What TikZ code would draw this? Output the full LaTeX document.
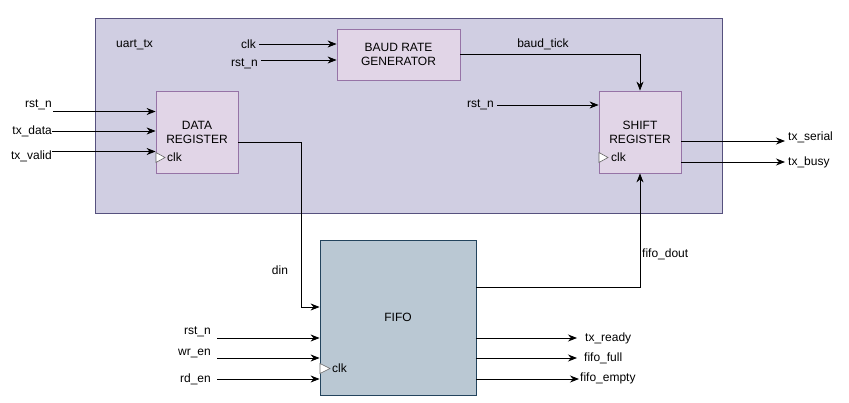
\documentclass[tikz,border=0pt]{standalone}
\usepackage{fontspec}
\setmainfont{Liberation Sans}
\usetikzlibrary{arrows.meta}
\definecolor{outerfill}{HTML}{D0CEE2}
\definecolor{outerdraw}{HTML}{56517E}
\definecolor{subfill}{HTML}{E1D5E7}
\definecolor{subdraw}{HTML}{9673A6}
\definecolor{fifofill}{HTML}{BAC8D3}
\definecolor{fifodraw}{HTML}{23445D}
\tikzset{
  outerbox/.style={draw=outerdraw,fill=outerfill,line width=0.8pt,inner sep=0pt,minimum width=627pt,minimum height=195pt},
  subbox/.style={draw=subdraw,fill=subfill,line width=0.8pt,inner sep=0pt,align=center},
  fifobox/.style={draw=fifodraw,fill=fifofill,line width=0.8pt,inner sep=0pt,minimum width=156pt,minimum height=155pt},
  sig/.style={draw=black,line width=0.8pt,-{Stealth[length=9pt,width=7pt]}},
  lbl/.style={inner sep=0pt},
  clkmark/.style={draw=black!60,fill=white,line width=0.6pt}
}
\begin{document}
\begin{tikzpicture}[x=1pt,y=-1pt,font=\fontsize{12}{14}\selectfont]
\useasboundingbox (0,0) rectangle (849,402);
% boxes
\node[outerbox] (uart) at (408.5,115.5) {};
\node[lbl,anchor=west] (uartlbl) at (116,45) {uart\_tx};
\node[subbox,minimum width=123pt,minimum height=51pt] (baud) at (398.5,54.5) {BAUD RATE\\GENERATOR};
\node[subbox,minimum width=82pt,minimum height=82pt] (dreg) at (197,132) {DATA\\REGISTER};
\node[subbox,minimum width=82pt,minimum height=82pt] (sreg) at (640,132) {SHIFT\\REGISTER};
\node[fifobox] (fifo) at (398,317.5) {FIFO};

% data register inputs
\coordinate (d1) at (53,111.5);
\coordinate (d2) at (52,131);
\coordinate (d3) at (52,151.5);
\node[lbl,anchor=east] (d1l) at (52,105) {rst\_n};
\node[lbl,anchor=east] (d2l) at (52,131) {tx\_data};
\node[lbl,anchor=east] (d3l) at (52,156.5) {tx\_valid};
\draw[sig] (d1) -- (d1 -| dreg.west);
\draw[sig] (d2) -- (d2 -| dreg.west);
\draw[sig] (d3) -- (d3 -| dreg.west);
\draw[clkmark] (156,152.5) -- (165,157.5) -- (156,162.5) -- cycle;
\node[lbl,anchor=west] (dclk) at (167,157.5) {clk};

% baud inputs
\node[lbl,anchor=east] (bclkl) at (256,44) {clk};
\node[lbl,anchor=east] (brstl) at (258,64) {rst\_n};
\coordinate (b1) at (259,44);
\coordinate (b2) at (261,60);
\draw[sig] (b1) -- (b1 -| baud.west);
\draw[sig] (b2) -- (b2 -| baud.west);

% baud_tick
\coordinate (bt) at (640,54.5);
\draw[sig] (baud.east |- bt) -- (bt) -- (sreg.north);
\node[lbl] (btl) at (543,44) {baud\_tick};

% shift register
\node[lbl,anchor=east] (srstl) at (494,105) {rst\_n};
\coordinate (s1) at (497,105);
\draw[sig] (s1) -- (s1 -| sreg.west);
\draw[clkmark] (599,152.5) -- (608,157.5) -- (599,162.5) -- cycle;
\node[lbl,anchor=west] (sclk) at (611,157.5) {clk};
\coordinate (o1) at (785,141);
\coordinate (o2) at (785,162);
\draw[sig] (o1 -| sreg.east) -- (o1);
\draw[sig] (o2 -| sreg.east) -- (o2);
\node[lbl,anchor=west] (o1l) at (788,137) {tx\_serial};
\node[lbl,anchor=west] (o2l) at (788,162.5) {tx\_busy};

% din
\coordinate (dn1) at (301,142);
\coordinate (dn2) at (301,307);
\draw[sig] (dreg.east |- dn1) -- (dn1) -- (dn2) -- (dn2 -| fifo.west);
\node[lbl] (dinl) at (280,270) {din};

% fifo_dout
\coordinate (fd1) at (640,287);
\draw[sig] (fifo.east |- fd1) -- (fd1) -- (sreg.south);
\node[lbl,anchor=west] (fdl) at (642,254) {fifo\_dout};

% fifo inputs
\coordinate (f1) at (217,338);
\coordinate (f2) at (217,358);
\coordinate (f3) at (217,379);
\node[lbl,anchor=east] (f1l) at (211,332) {rst\_n};
\node[lbl,anchor=east] (f2l) at (211,353) {wr\_en};
\node[lbl,anchor=east] (f3l) at (211,379) {rd\_en};
\draw[sig] (f1) -- (f1 -| fifo.west);
\draw[sig] (f2) -- (f2 -| fifo.west);
\draw[sig] (f3) -- (f3 -| fifo.west);
\draw[clkmark] (320,363.5) -- (330,368.5) -- (320,373.5) -- cycle;
\node[lbl,anchor=west] (fclk) at (332,368.5) {clk};

% fifo outputs
\coordinate (g1) at (577,338);
\coordinate (g2) at (577,358);
\coordinate (g3) at (579,379);
\draw[sig] (g1 -| fifo.east) -- (g1);
\draw[sig] (g2 -| fifo.east) -- (g2);
\draw[sig] (g3 -| fifo.east) -- (g3);
\node[lbl,anchor=west] (g1l) at (585,338) {tx\_ready};
\node[lbl,anchor=west] (g2l) at (584,358) {fifo\_full};
\node[lbl,anchor=west] (g3l) at (580,378.5) {fifo\_empty};
\end{tikzpicture}
\end{document}
